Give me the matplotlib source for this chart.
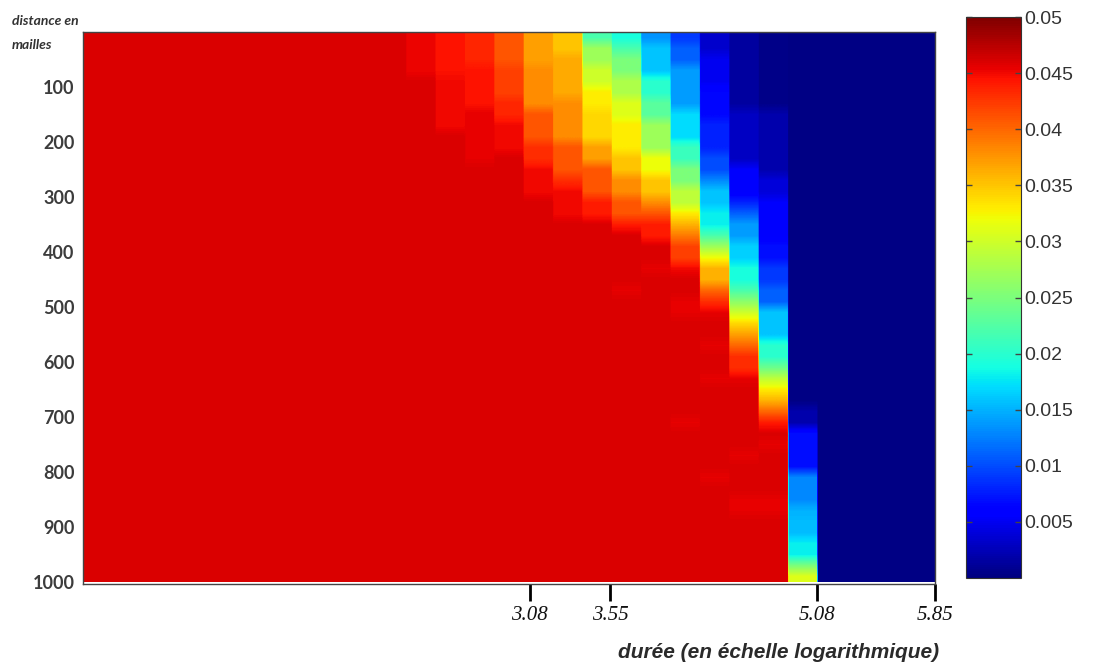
import numpy as np
import matplotlib
matplotlib.use("Agg")
import matplotlib.pyplot as plt

# --- data ----------------------------------------------------------------
# each column = list of (start depth, value) bands, depth 0..1000 (mailles)
n_cols = 29
red = 0.046
navy = 0.0003

col_bands = {
    11: [(0, 0.0452), (90, red)],
    12: [(0, 0.0445), (80, 0.045), (180, red)],
    13: [(0, 0.0435), (55, 0.0445), (150, 0.0455), (250, red)],
    14: [(0, 0.041), (60, 0.042), (120, 0.0435), (170, 0.045), (230, red)],
    15: [(0, 0.037), (55, 0.038), (145, 0.041), (195, 0.043), (250, 0.045), (300, red)],
    16: [(0, 0.035), (50, 0.0365), (115, 0.038), (195, 0.041), (255, 0.043), (290, 0.045), (340, red)],
    17: [(0, 0.022), (20, 0.027), (60, 0.030), (100, 0.033), (150, 0.034), (195, 0.037),
         (250, 0.041), (300, 0.044), (340, red)],
    18: [(0, 0.019), (15, 0.022), (50, 0.025), (90, 0.028), (130, 0.031), (170, 0.033),
         (220, 0.035), (265, 0.038), (305, 0.041), (335, 0.044), (370, red), (460, 0.0455), (480, red)],
    19: [(0, 0.0135), (20, 0.016), (85, 0.020), (130, 0.023), (165, 0.027), (215, 0.032),
         (260, 0.035), (300, 0.038), (330, 0.041), (350, 0.044), (380, red), (420, 0.0455), (450, red)],
    20: [(0, 0.009), (20, 0.011), (55, 0.014), (140, 0.017), (200, 0.021), (250, 0.025),
         (285, 0.029), (315, 0.033), (340, 0.036), (365, 0.039), (390, 0.042), (415, 0.045),
         (450, red), (480, 0.0455), (520, red), (700, 0.0455), (720, red)],
    21: [(0, 0.0035), (50, 0.005), (110, 0.0065), (170, 0.008), (220, 0.010), (260, 0.013),
         (290, 0.016), (330, 0.018), (360, 0.022), (385, 0.027), (410, 0.032), (430, 0.036),
         (455, 0.040), (475, 0.043), (495, 0.0455), (530, red), (560, 0.0455), (580, red),
         (620, 0.0455), (640, red), (800, 0.0455), (830, red)],
    22: [(0, 0.0015), (140, 0.003), (237, 0.0055), (300, 0.008), (330, 0.011), (350, 0.014),
         (380, 0.0165), (430, 0.019), (460, 0.022), (485, 0.026), (505, 0.030), (525, 0.034),
         (545, 0.037), (565, 0.040), (590, 0.043), (615, 0.0455), (650, red), (760, 0.0455),
         (780, red), (850, 0.0455), (880, red)],
    23: [(0, 0.0005), (146, 0.002), (268, 0.004), (300, 0.0055), (390, 0.007), (420, 0.009),
         (470, 0.011), (495, 0.013), (510, 0.016), (570, 0.020), (595, 0.024), (615, 0.029),
         (640, 0.033), (660, 0.036), (680, 0.040), (700, 0.044), (730, red), (750, 0.0455),
         (770, red), (850, 0.0455), (880, red), (900, 0.0455), (910, red)],
    24: [(0, navy), (690, 0.002), (727, 0.007), (796, 0.013), (855, 0.015), (873, 0.0125),
         (887, 0.0155), (927, 0.018), (958, 0.025), (982, 0.031), (995, 0.036)],
}
left_value = red      # columns 0..10
right_value = navy    # columns 25..28

ytick_vals = [100, 200, 300, 400, 500, 600, 700, 800, 900, 1000]
xtick_pos = [15.2, 17.95, 25.0, 29.0]
xtick_labels = ["3.08", "3.55", "5.08", "5.85"]
cbar_ticks = [0.005, 0.01, 0.015, 0.02, 0.025, 0.03, 0.035, 0.04, 0.045, 0.05]

# --- build the matrix (20-unit rows) ---------------------------------------
depth = np.arange(0, 1000, 20) + 10
Z = np.zeros((len(depth), n_cols))
for j in range(n_cols):
    if j in col_bands:
        starts = np.array([b[0] for b in col_bands[j]])
        vals = np.array([b[1] for b in col_bands[j]])
        Z[:, j] = vals[np.searchsorted(starts, depth, side="right") - 1]
    elif j < 11:
        Z[:, j] = left_value
    else:
        Z[:, j] = right_value

# widen columns so that the smoothing only acts along depth
Zw = np.repeat(Z, 40, axis=1)

fig = plt.figure(figsize=(10.95, 6.66), dpi=100)
ax = fig.add_axes([83 / 1095, 82 / 666, 852 / 1095, 552 / 666])
im = ax.imshow(Zw, cmap="jet", vmin=0, vmax=0.05, aspect="auto",
               extent=(0, n_cols, 1000, 0), interpolation="bilinear",
               interpolation_stage="data")
ax.set_xlim(0, n_cols)
ax.set_ylim(1004, 0)

ax.set_yticks(ytick_vals)
ax.set_yticklabels([str(v) for v in ytick_vals], fontfamily="Lato",
                   fontweight="bold", fontsize=13, color="#3c3c3c")
ax.tick_params(axis="y", length=0, pad=6)

ax.set_xticks(xtick_pos)
ax.set_xticklabels(xtick_labels, fontfamily="Liberation Serif", fontstyle="italic",
                   fontsize=15, color="#111111")
ax.tick_params(axis="x", direction="out", length=12, width=2, color="black", pad=4)

for s in ax.spines.values():
    s.set_color("#444444")
    s.set_linewidth(1)

fig.text(12 / 1095, 1 - 21 / 666, "distance en", fontfamily="Lato", fontweight="bold",
         fontstyle="italic", fontsize=10, color="#333333", va="center", ha="left")
fig.text(12 / 1095, 1 - 45 / 666, "mailles", fontfamily="Lato", fontweight="bold",
         fontstyle="italic", fontsize=10, color="#333333", va="center", ha="left")

fig.text(779 / 1095, 1 - 653 / 666, "durée (en échelle logarithmique)",
         fontfamily="Liberation Sans", fontweight="bold", fontstyle="italic",
         fontsize=15, color="#2a2a2a", ha="center", va="center")

cax = fig.add_axes([966 / 1095, 88 / 666, 55 / 1095, 561 / 666])
cb = fig.colorbar(im, cax=cax, ticks=cbar_ticks)
cb.ax.set_yticklabels([f"{t:g}" for t in cbar_ticks], fontfamily="Liberation Sans",
                      fontsize=14, color="#333333")
cb.ax.tick_params(direction="in", left=True, right=True, length=4, width=1,
                  color="#444444", pad=2)
cb.outline.set_edgecolor("#333333")

fig.savefig("out.png", dpi=100)
